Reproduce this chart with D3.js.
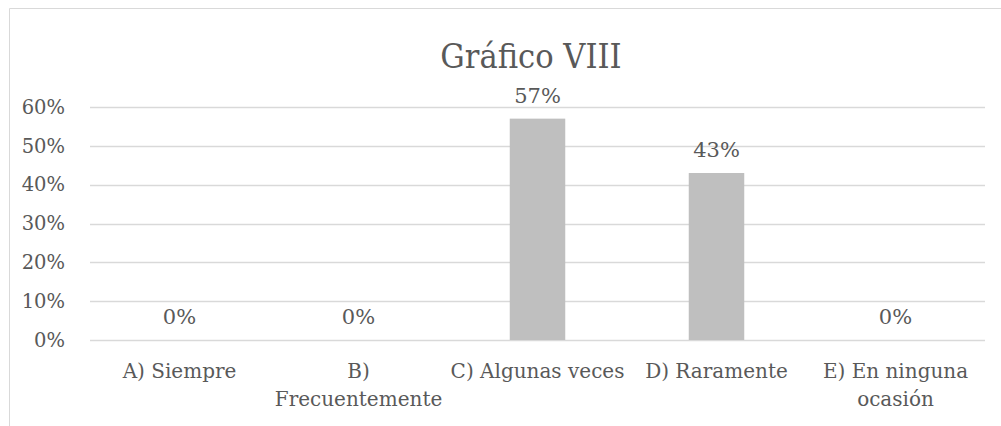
<!DOCTYPE html>
<html>
<head>
<meta charset="utf-8">
<script src="https://cdn.jsdelivr.net/npm/d3@7"></script>
<style>
  body { margin: 0; background: #fff; }
  text { font-family: "DejaVu Serif", "Liberation Serif", serif; fill: #595959; }
</style>
</head>
<body>
<div id="chart"></div>
<script>
var width = 1001;
var height = 426;

// data
var categories = ["A) Siempre", "B) Frecuentemente", "C) Algunas veces", "D) Raramente", "E) En ninguna ocasión"];
var values = [0, 0, 0.57, 0.43, 0];
var yTicks = [0, 0.1, 0.2, 0.3, 0.4, 0.5, 0.6];
var title = "Gráfico VIII";

var margin = {top: 107, right: 16, bottom: 86, left: 90};

var svg = d3.select("#chart")
  .append("svg")
  .attr("width", width)
  .attr("height", height);

// chart frame
svg.append("path")
  .attr("d", "M9.5,426 V8.5 H1001")
  .attr("fill", "none")
  .attr("stroke", "#d9d9d9")
  .attr("stroke-width", 1);

svg.append("text")
  .attr("x", 531)
  .attr("y", 68)
  .attr("text-anchor", "middle")
  .style("font-size", "34px")
  .style("font-stretch", "condensed")
  .text(title);

var x = d3.scaleBand()
  .domain(categories)
  .range([margin.left, width - margin.right])
  .paddingInner(0.69)
  .paddingOuter(0.345);

var y = d3.scaleLinear()
  .domain([0, 0.6])
  .range([height - margin.bottom, margin.top]);

// gridlines
svg.append("g")
  .selectAll("line")
  .data(yTicks)
  .enter().append("line")
  .attr("x1", margin.left)
  .attr("x2", width - margin.right)
  .attr("y1", function(d) { return Math.round(y(d)) + 0.5; })
  .attr("y2", function(d) { return Math.round(y(d)) + 0.5; })
  .attr("stroke", "#d9d9d9")
  .attr("stroke-width", 1.5);

// y axis labels
var yAxis = svg.append("g")
  .attr("transform", "translate(" + (margin.left - 22) + ",0)")
  .call(d3.axisLeft(y).tickValues(yTicks).tickFormat(d3.format(".0%")).tickSize(0));
yAxis.select(".domain").remove();
yAxis.selectAll("text")
  .style("font-size", "19.5px")
  .attr("fill", "#595959");

// bars
svg.selectAll(".bar")
  .data(values)
  .enter().append("rect")
  .attr("class", "bar")
  .attr("x", function(d, i) { return x(categories[i]); })
  .attr("width", x.bandwidth())
  .attr("y", function(d) { return y(d); })
  .attr("height", function(d) { return y(0) - y(d); })
  .attr("fill", "#bfbfbf");

// value labels
svg.selectAll(".lbl")
  .data(values)
  .enter().append("text")
  .attr("class", "lbl")
  .attr("x", function(d, i) { return x(categories[i]) + x.bandwidth() / 2; })
  .attr("y", function(d) { return y(d) - 16; })
  .attr("text-anchor", "middle")
  .style("font-size", "21px")
  .text(function(d) { return d3.format(".0%")(d); });

// x axis labels, wrapped like excel does
var xAxis = svg.append("g")
  .attr("transform", "translate(0," + y(0) + ")")
  .call(d3.axisBottom(x).tickSize(0).tickPadding(24));
xAxis.select(".domain").remove();
xAxis.selectAll("text")
  .style("font-size", "20px")
  .attr("fill", "#595959")
  .call(wrap, x.step());

function wrap(texts, w) {
  texts.each(function() {
    var text = d3.select(this);
    var words = text.text().split(/\s+/);
    var yy = text.attr("y");
    var dy = parseFloat(text.attr("dy"));
    text.text(null);
    var line = [];
    var lineNo = 0;
    var tspan = text.append("tspan").attr("x", 0).attr("y", yy).attr("dy", dy + "em");
    words.forEach(function(word) {
      line.push(word);
      tspan.text(line.join(" "));
      if (tspan.node().getComputedTextLength() > w - 4 && line.length > 1) {
        line.pop();
        tspan.text(line.join(" "));
        line = [word];
        lineNo++;
        tspan = text.append("tspan").attr("x", 0).attr("y", yy)
          .attr("dy", (lineNo * 1.4 + dy) + "em").text(word);
      }
    });
  });
}
</script>
</body>
</html>
